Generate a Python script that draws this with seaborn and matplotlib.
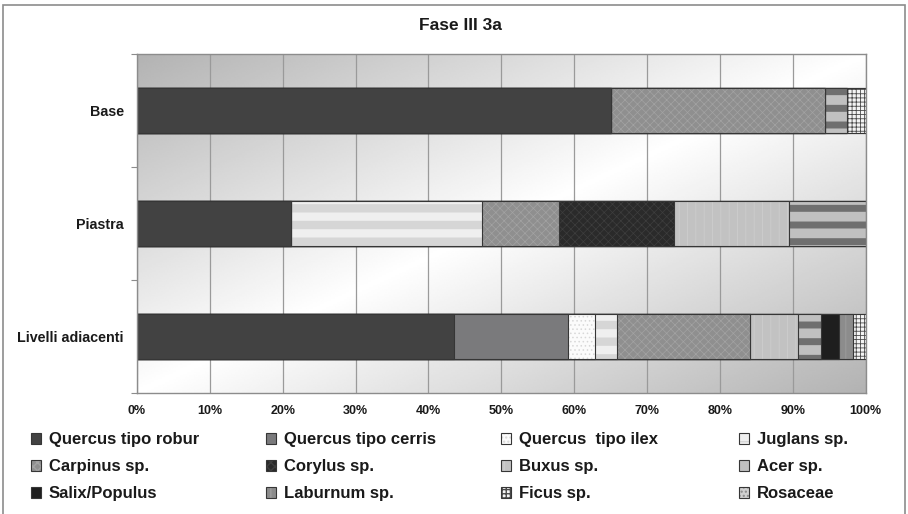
import numpy as np
import pandas as pd
import matplotlib
matplotlib.use("Agg")
import matplotlib.pyplot as plt
from matplotlib.patches import Patch, Rectangle
from matplotlib.ticker import PercentFormatter, FixedLocator
import seaborn as sns

# ---- data (percent of charcoal fragments per context) ----
sites = ["Base", "Piastra", "Livelli adiacenti"]
taxa = ["Quercus tipo robur", "Quercus tipo cerris", "Quercus  tipo ilex", "Juglans sp.",
        "Carpinus sp.", "Corylus sp.", "Buxus sp.", "Acer sp.",
        "Salix/Populus", "Laburnum sp.", "Ficus sp.", "Rosaceae"]
base = [65.0, 0, 0, 0, 29.5, 0, 0, 2.9, 0, 0, 2.6, 0]
piastra = [21.1, 0, 0, 26.3, 10.5, 15.8, 15.8, 10.5, 0, 0, 0, 0]
livelli = [43.5, 15.6, 3.8, 3.0, 18.3, 0, 6.6, 3.1, 2.5, 1.9, 1.7, 0]
pct_ticks = [0, 10, 20, 30, 40, 50, 60, 70, 80, 90, 100]
title = "Fase III 3a"

# ---- fill styles, one per taxon ----
face = ["#424242", "#7a7a7c", "#fbfbfb", "#efefef", "#8f8f8f", "#2a2a2a",
        "#c2c2c2", "#c0c0c0", "#1e1e1e", "#8c8c8c", "#f4f4f4", "#d0d0d0"]
hatch = [None, None, "....", "-", "xxxx", "xxxx", "||", "-", None, "||", "++++", "...."]
hatch_col = ["#424242", "#7a7a7c", "#d8d8d8", "#d6d6d6", "#a3a3a3", "#3e3e3e",
             "#cdcdcd", "#6f6f6f", "#1e1e1e", "#9e9e9e", "#4a4a4a", "#8a8a8a"]
hatch_lw = [1, 1, 0.6, 6, 0.5, 0.5, 0.6, 5, 1, 0.6, 0.6, 0.6]
edge = "#363636"


def style_patch(p, i):
    p.set_edgecolor(edge)
    p.set_linewidth(0.8)
    if hatch[i]:
        p.set_hatch(hatch[i])
    p._hatch_color = matplotlib.colors.to_rgba(hatch_col[i])
    if hasattr(p, "set_hatch_linewidth"):
        p.set_hatch_linewidth(hatch_lw[i])
    else:
        p._hatch_linewidth = hatch_lw[i]


sns.set_theme(style="white")
plt.rcParams["font.family"] = ["Liberation Sans", "DejaVu Sans"]
plt.rcParams["font.weight"] = "bold"

W, H = 908, 514
fig = plt.figure(figsize=(W / 100, H / 100), dpi=100, facecolor="white")
ax = fig.add_axes([137 / W, 1 - 393 / H, 728.5 / W, 339 / H])

df = pd.DataFrame({
    "site": np.repeat(sites, len(taxa)),
    "taxon": taxa * len(sites),
    "pct": base + piastra + livelli,
})
df["cum"] = df.groupby("site", sort=False)["pct"].cumsum()

# stacked bars: draw cumulative totals from the last taxon to the first,
# each layer covering the part of the previous one that belongs to earlier taxa
for i in reversed(range(len(taxa))):
    sub = df[df["taxon"] == taxa[i]]
    n0 = len(ax.patches)
    sns.barplot(data=sub, x="cum", y="site", order=sites, orient="h",
                color=face[i], saturation=1, width=0.4, errorbar=None,
                ax=ax, zorder=2)
    for p in ax.patches[n0:]:
        style_patch(p, i)

# diagonal shaded plot background
ny, nx = 200, 400
yy, xx = np.mgrid[0:1:ny * 1j, 0:1:nx * 1j]
u = (xx + yy) / 2
v = 1 - np.abs(u - 0.5) * 2
shade = 0.70 + 0.30 * v
ax.imshow(shade, extent=[0, 1, 0, 1], transform=ax.transAxes, aspect="auto",
          cmap="gray", vmin=0, vmax=1, zorder=0, interpolation="bilinear")

ax.set_xlim(0, 100)
ax.set_ylim(2.5, -0.5)
ax.set_xlabel("")
ax.set_ylabel("")

ax.xaxis.set_major_locator(FixedLocator(pct_ticks))
ax.xaxis.set_major_formatter(PercentFormatter(decimals=0))
ax.grid(axis="x", color="#9a9a9a", linewidth=0.9)
ax.grid(axis="y", visible=False)
ax.set_axisbelow(True)
for gl in ax.get_xgridlines():
    gl.set_zorder(1)

ax.tick_params(axis="x", length=0, pad=9, labelsize=9)
ax.tick_params(axis="y", which="major", length=0, pad=9.5, labelsize=10.3)
ax.set_yticks([-0.5, 0.5, 1.5, 2.5], minor=True)
ax.tick_params(axis="y", which="minor", length=4, width=0.8, color="#8c8c8c", left=True)
for lab in ax.get_xticklabels() + ax.get_yticklabels():
    lab.set_fontweight("bold")
    lab.set_color("#1a1a1a")

for s in ax.spines.values():
    s.set_visible(True)
    s.set_color("#8c8c8c")
    s.set_linewidth(1.0)

fig.text(460 / W, 1 - 25 / H, title, ha="center", va="center",
         fontsize=12.5, fontweight="bold", color="#1a1a1a")

# legend: three rows of four entries, one legend box per column
handles = []
for i in range(len(taxa)):
    h = Patch(facecolor=face[i], edgecolor=edge, linewidth=0.8, hatch=hatch[i])
    h._hatch_color = matplotlib.colors.to_rgba(hatch_col[i])
    handles.append(h)
col_x = [31, 266, 501, 739]
for c, x0 in enumerate(col_x):
    idx = [r * 4 + c for r in range(3)]
    fig.legend([handles[k] for k in idx], [taxa[k] for k in idx], ncol=1,
               loc="upper left", bbox_to_anchor=(x0 / W, 1 - 432 / H),
               frameon=False, prop=dict(weight="bold", size=12),
               handlelength=0.62, handleheight=0.62, handletextpad=0.45,
               labelspacing=0.72, borderaxespad=0, borderpad=0,
               labelcolor="#1a1a1a")

# outer chart frame
fig.add_artist(Rectangle((3 / W, -0.1), 902 / W, 1.1 - 5 / H, transform=fig.transFigure,
                         fill=False, edgecolor="#8c8c8c", linewidth=1.2))

fig.savefig("out.png", dpi=100, facecolor="white")
